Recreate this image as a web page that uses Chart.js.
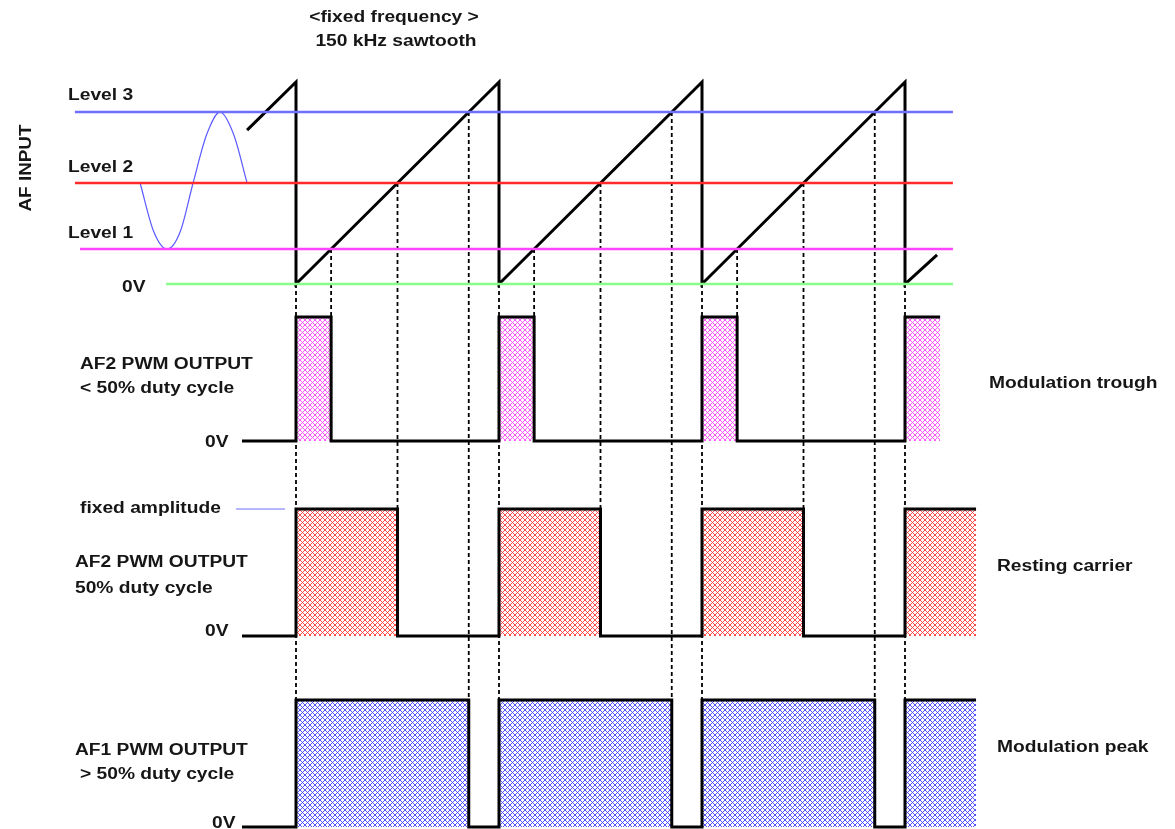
<!DOCTYPE html>
<html lang="en">
<head>
<meta charset="UTF-8">
<title>AF PWM modulation</title>
<script src="https://cdn.jsdelivr.net/npm/chart.js"></script>
<style>
  html, body { margin: 0; padding: 0; background: #fff; }
  #wrap { width: 1175px; height: 829px; }
</style>
</head>
<body>
<div id="wrap"><canvas id="pwmChart"></canvas></div>
<script>
// time in sawtooth periods (150 kHz), values as a fraction of the sawtooth peak
const sawTimes  = [-0.241, 0, 0, 1, 1, 2, 2, 3, 3, 3.158];
const sawValues = [0.762, 1, 0, 1, 0, 1, 0, 1, 0, 0.144];

const levelNames  = ['Level 1', 'Level 2', 'Level 3'];
const levelValues = [0.173, 0.50, 0.851];
const levelStarts = [-1.064, -1.089, -1.089];
const levelEnd = 3.236;
const zeroStart = -0.640;

// the AF input sine drawn left of the sawtooth
const sineTimes  = [-0.768, -0.701, -0.635, -0.570, -0.507, -0.440, -0.374, -0.307, -0.241];
const sineValues = [0.50, 0.26, 0.173, 0.26, 0.50, 0.74, 0.851, 0.74, 0.50];

const resetTimes = [0, 1, 2, 3];
const crossPeriods = [0, 1, 2];

const pwmStart = -0.266;
const pwmEnds = [3.173, 3.35, 3.35];
const pwmTitles = ['AF2 PWM OUTPUT', 'AF2 PWM OUTPUT', 'AF1 PWM OUTPUT'];
const pwmDuty = ['< 50% duty cycle', '50% duty cycle', '> 50% duty cycle'];
const pwmStates = ['Modulation trough', 'Resting carrier', 'Modulation peak'];
const ampMarker = [-0.296, -0.054];

// layout: pixel of t=0, pixels per period, panel pixels for value 0 and 1
const W = 1175, H = 829;
const X0 = 296, PERIOD = 203;
const panelPx = { yIn: [284, 82], yLow: [441, 317], yMid: [636, 509], yHigh: [827, 700] };
const pwmAxes = ['yLow', 'yMid', 'yHigh'];
const pwmColors = ['#ff44ff', '#ff3838', '#4040ff'];
const levelColors = ['#ff44ff', '#ff2a2a', '#6e6eff'];

function axisFor(zero, one) {
  const span = zero - one;
  return { type: 'linear', display: false, min: (zero - H) / span, max: zero / span };
}

function hatch(color) {
  const c = document.createElement('canvas');
  c.width = c.height = 5;
  const g = c.getContext('2d');
  g.fillStyle = '#fff';
  g.fillRect(0, 0, 5, 5);
  g.strokeStyle = color;
  g.lineWidth = 0.9;
  g.beginPath();
  g.moveTo(0, 0); g.lineTo(5, 5);
  g.moveTo(5, 0); g.lineTo(0, 5);
  g.stroke();
  return g.createPattern(c, 'repeat');
}

function pwmWave(duty, tEnd) {
  const pts = [{x: pwmStart, y: 0}];
  for (const s of resetTimes) {
    pts.push({x: s, y: 0}, {x: s, y: 1});
    const e = s + duty;
    if (e < tEnd) {
      pts.push({x: e, y: 1}, {x: e, y: 0});
    } else {
      pts.push({x: tEnd, y: 1});
      break;
    }
  }
  return pts;
}

const zip = (xs, ys) => xs.map((x, i) => ({x: x, y: ys[i]}));

const datasets = [];
datasets.push({
  data: [{x: zeroStart, y: 0}, {x: levelEnd, y: 0}],
  yAxisID: 'yIn', borderColor: '#88ff88', borderWidth: 2.5
});
levelValues.forEach((v, i) => datasets.push({
  label: levelNames[i],
  data: [{x: levelStarts[i], y: v}, {x: levelEnd, y: v}],
  yAxisID: 'yIn', borderColor: levelColors[i], borderWidth: 2.5
}));
datasets.push({
  label: 'AF input',
  data: zip(sineTimes, sineValues),
  yAxisID: 'yIn', borderColor: '#5a5aff', borderWidth: 1.2,
  cubicInterpolationMode: 'monotone'
});
datasets.push({
  label: 'sawtooth',
  data: zip(sawTimes, sawValues),
  yAxisID: 'yIn', borderColor: '#000', borderWidth: 3
});
levelValues.forEach((duty, i) => datasets.push({
  label: pwmTitles[i],
  data: pwmWave(duty, pwmEnds[i]),
  yAxisID: pwmAxes[i], borderColor: '#000', borderWidth: 3,
  borderJoinStyle: 'miter',
  fill: {value: 0}, backgroundColor: hatch(pwmColors[i])
}));
datasets.push({
  label: 'fixed amplitude',
  data: [{x: ampMarker[0], y: 1}, {x: ampMarker[1], y: 1}],
  yAxisID: 'yMid', borderColor: '#6e6eff', borderWidth: 1
});

// dashed guides from the sawtooth down through the PWM panels
const guides = {
  id: 'guides',
  beforeDatasetsDraw(chart) {
    const {ctx, scales} = chart;
    const seg = (t, y1, y2) => {
      const x = scales.x.getPixelForValue(t);
      ctx.beginPath();
      ctx.moveTo(x, y1);
      ctx.lineTo(x, y2);
      ctx.stroke();
    };
    ctx.save();
    ctx.strokeStyle = '#000';
    ctx.lineWidth = 1.8;
    ctx.setLineDash([4, 3]);
    resetTimes.forEach(t => seg(t, scales.yIn.getPixelForValue(0), scales.yHigh.getPixelForValue(0)));
    crossPeriods.forEach(k => levelValues.forEach((lv, i) =>
      seg(k + lv, scales.yIn.getPixelForValue(lv), scales[pwmAxes[i]].getPixelForValue(0))));
    ctx.restore();
  }
};

const labels = [
  ['<fixed frequency >', 394, 22, 'center'],
  ['150 kHz sawtooth', 396, 46, 'center'],
  [levelNames[2], 68, 100, 'left'],
  [levelNames[1], 68, 172, 'left'],
  [levelNames[0], 68, 238, 'left'],
  ['0V', 122, 292, 'left'],
  [pwmTitles[0], 80, 369, 'left'],
  [pwmDuty[0], 80, 393, 'left'],
  ['0V', 205, 447, 'left'],
  ['fixed amplitude', 80, 513, 'left'],
  [pwmTitles[1], 75, 567, 'left'],
  [pwmDuty[1], 75, 593, 'left'],
  ['0V', 205, 636, 'left'],
  [pwmTitles[2], 75, 755, 'left'],
  [pwmDuty[2], 80, 779, 'left'],
  ['0V', 212, 828, 'left'],
  [pwmStates[0], 989, 388, 'left'],
  [pwmStates[1], 997, 571, 'left'],
  [pwmStates[2], 997, 752, 'left']
];

const texts = {
  id: 'texts',
  afterDraw(chart) {
    const ctx = chart.ctx;
    ctx.save();
    ctx.fillStyle = '#161616';
    ctx.font = 'bold 16px "Liberation Sans", Arial, sans-serif';
    ctx.textBaseline = 'alphabetic';
    for (const [t, x, y, align] of labels) {
      ctx.save();
      ctx.translate(x, y);
      ctx.scale(1.2, 1);
      ctx.textAlign = align;
      ctx.fillText(t, 0, 0);
      ctx.restore();
    }
    ctx.translate(27, 168);
    ctx.rotate(-Math.PI / 2);
    ctx.scale(1.18, 1);
    ctx.textAlign = 'center';
    ctx.textBaseline = 'middle';
    ctx.fillText('AF INPUT', 0, 0);
    ctx.restore();
  }
};

const scales = { x: { type: 'linear', display: false, min: -X0 / PERIOD, max: (W - X0) / PERIOD } };
for (const k in panelPx) scales[k] = axisFor(panelPx[k][0], panelPx[k][1]);

new Chart(document.getElementById('pwmChart'), {
  type: 'line',
  data: { datasets: datasets },
  options: {
    responsive: true,
    maintainAspectRatio: false,
    animation: false,
    layout: { padding: 0 },
    elements: { point: { radius: 0 }, line: { tension: 0 } },
    plugins: { legend: { display: false }, tooltip: { enabled: false } },
    scales: scales
  },
  plugins: [guides, texts]
});
</script>
</body>
</html>
